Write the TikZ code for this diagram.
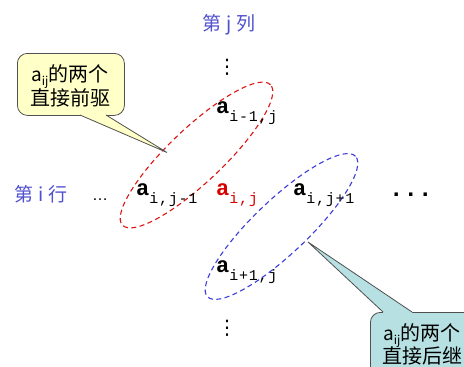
\documentclass[tikz,border=0pt]{standalone}
\usepackage{fontspec}
\setmainfont{Liberation Sans}
\newfontfamily\cjk{Noto Sans CJK SC}
\newfontfamily\amono{Liberation Mono}
\newfontfamily\smono{Liberation Mono}[LetterSpace=5]
\newfontfamily\dotmono{Liberation Mono}
\newfontfamily\dejavu{DejaVu Sans}
\usetikzlibrary{shapes.geometric}
\definecolor{bluetxt}{RGB}{80,80,208}
\definecolor{redline}{RGB}{222,20,20}
\definecolor{blueline}{RGB}{60,60,220}
\definecolor{redtxt}{RGB}{215,0,0}
\definecolor{yellowfill}{RGB}{255,255,200}
\definecolor{tealfill}{RGB}{182,224,226}
\definecolor{callborder}{RGB}{80,80,80}
\newcommand{\aelem}[1]{{\amono\bfseries\fontsize{22}{22}\selectfont a}\raisebox{-8pt}{\smono\fontsize{15}{15}\selectfont #1}}
\newcommand{\calla}{{\fontsize{19}{19}\selectfont a}\raisebox{-4pt}{\fontsize{12}{12}\selectfont ij}}
\tikzset{
  elem/.style={inner sep=0pt, anchor=base west},
  ellred/.style={ellipse, draw=redline, line width=1.1pt, dash pattern=on 5pt off 3.5pt, inner sep=0pt, minimum width=204pt, minimum height=54pt, rotate=43.5},
  ellblue/.style={ellipse, draw=blueline, line width=1.1pt, dash pattern=on 5pt off 3.5pt, inner sep=0pt, minimum width=204pt, minimum height=54pt, rotate=43.5},
  callbox/.style={draw=callborder, line width=0.8pt, rounded corners=10pt, inner sep=0pt, anchor=north west},
  calltext/.style={inner sep=0pt, anchor=base west, font=\fontsize{20}{24}\selectfont\cjk},
  headtext/.style={inner sep=0pt, text=bluetxt, font=\fontsize{19}{22}\selectfont\cjk},
  vdotsnode/.style={inner sep=0pt, font=\dejavu\fontsize{20}{20}\selectfont}
}
\begin{document}
\begin{tikzpicture}[x=1pt,y=-1pt]
\path[use as bounding box] (0,0) rectangle (464,367);
\fill[white] (0,0) rectangle (464,367);
\clip (0,0) rectangle (464,367);

% headers
\node[headtext] (colhead) at (229,25) {第\hspace{5pt}j\hspace{5pt}列};
\node[headtext] (rowhead) at (41,194) {第\hspace{5pt}i\hspace{5pt}行};

% dots
\node[vdotsnode] (vtop) at (227,67) {⋮};
\node[vdotsnode] (vbot) at (227,328) {⋮};
\node[inner sep=0pt, anchor=base west, font=\fontsize{16}{16}\selectfont] (hleft) at (92,200) {\dots};
\node[inner sep=0pt, anchor=base west, font=\dotmono\bfseries\fontsize{24}{24}\selectfont] (hright) at (389,196) {...};

% ellipses
\node[ellred] (redE) at (196.5,155) {};
\node[ellblue] (blueE) at (281.5,226.5) {};

% elements
\node[elem] (aup) at (216,113) {\aelem{i-1,j}};
\node[elem] (aleft) at (136,195) {\aelem{i,j-1}};
\node[elem, text=redtxt] (acenter) at (216,195) {\aelem{i,j}};
\node[elem] (aright) at (293,195) {\aelem{i,j+1}};
\node[elem] (adown) at (216,272) {\aelem{i+1,j}};

% yellow callout
\node[callbox, fill=yellowfill, minimum width=107pt, minimum height=62pt] (c1) at (17,53) {};
\coordinate (t1) at (167,152.5);
\coordinate (b1a) at (80,115);
\coordinate (b1b) at (106,115);
\fill[yellowfill] (b1a) -- (t1) -- (b1b) -- ++(0,-2) -- (80,113) -- cycle;
\draw[callborder, line width=0.8pt] (b1a) -- (t1) -- (b1b);
\node[calltext] (c1l1) at (31,81) {\calla 的两个};
\node[calltext] (c1l2) at (30,105) {直接前驱};

% teal callout
\node[callbox, fill=tealfill, minimum width=130pt, minimum height=90pt] (c2) at (370,312) {};
\coordinate (t2) at (308,242);
\coordinate (b2a) at (383,312);
\coordinate (b2b) at (412,312);
\fill[tealfill] (b2a) -- (t2) -- (b2b) -- ++(0,2) -- (383,314) -- cycle;
\draw[callborder, line width=0.8pt] (b2a) -- (t2) -- (b2b);
\node[calltext] (c2l1) at (383,340) {\calla 的两个};
\node[calltext] (c2l2) at (382,363) {直接后继};
\end{tikzpicture}
\end{document}
